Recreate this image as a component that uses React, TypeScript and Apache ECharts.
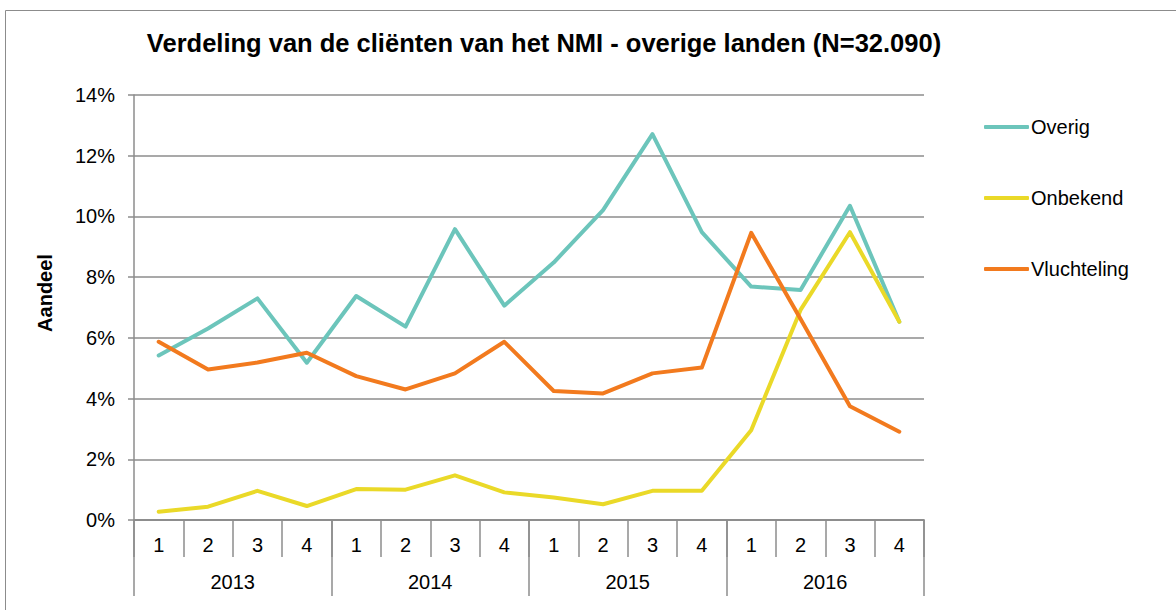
import React, { useEffect, useRef } from "react";
import * as echarts from "echarts";

const quarters = ["1", "2", "3", "4", "1", "2", "3", "4", "1", "2", "3", "4", "1", "2", "3", "4"];
const years = ["2013", "2014", "2015", "2016"];
const yTicks = { min: 0, max: 14, interval: 2 };

const overig = [5.42, 6.31, 7.3, 5.18, 7.38, 6.37, 9.58, 7.06, 8.48, 10.21, 12.71, 9.48, 7.69, 7.58, 10.35, 6.53];
const onbekend = [0.27, 0.44, 0.96, 0.46, 1.02, 1.0, 1.47, 0.91, 0.74, 0.52, 0.96, 0.96, 2.96, 6.92, 9.48, 6.53];
const vluchteling = [5.87, 4.96, 5.19, 5.51, 4.74, 4.3, 4.83, 5.87, 4.25, 4.17, 4.83, 5.02, 9.46, 6.62, 3.75, 2.91];

const seriesNames = ["Overig", "Onbekend", "Vluchteling"];
const colors = ["#6CC5BB", "#EAD928", "#F27A1E"];

const titleText = "Verdeling van de cliënten van het NMI - overige landen (N=32.090)";
const yName = "Aandeel";

const FONT = "'Liberation Sans', Arial, sans-serif";
const GRAY = "#8C8C8C";

export default function App() {
  const ref = useRef<HTMLDivElement>(null);

  useEffect(() => {
    if (!ref.current) return;
    const chart = echarts.init(ref.current, undefined, { renderer: "svg" });
    const values = [overig, onbekend, vluchteling];
    chart.setOption({
      animation: false,
      backgroundColor: "#ffffff",
      textStyle: { fontFamily: FONT },
      graphic: [
        {
          type: "rect",
          shape: { x: 5.5, y: 10.5, width: 1300, height: 700 },
          style: { fill: "none", stroke: GRAY, lineWidth: 1 },
          silent: true,
        },
        {
          type: "text",
          x: 544,
          y: 43,
          style: {
            text: titleText,
            font: `bold 25.5px ${FONT}`,
            fill: "#000",
            align: "center",
            verticalAlign: "middle",
          },
        },
        {
          type: "text",
          x: 45,
          y: 293,
          rotation: Math.PI / 2,
          style: {
            text: yName,
            font: `bold 20px ${FONT}`,
            fill: "#000",
            align: "center",
            verticalAlign: "middle",
          },
        },
      ],
      legend: {
        orient: "vertical",
        left: 979,
        top: 112,
        icon: "roundRect",
        itemWidth: 45,
        itemHeight: 4,
        itemGap: 51,
        textStyle: { fontSize: 20, color: "#000", fontFamily: FONT, padding: [0, 0, 0, -3], lineHeight: 20 },
        data: seriesNames,
      },
      grid: { left: 134, right: 252, top: 95, bottom: 90, containLabel: false },
      xAxis: [
        {
          type: "category",
          data: quarters,
          position: "bottom",
          boundaryGap: true,
          axisLine: { show: true, lineStyle: { color: GRAY, width: 1.5 } },
          axisTick: { show: true, length: 37, interval: 0, lineStyle: { color: GRAY, width: 1.5 } },
          axisLabel: { interval: 0, fontSize: 20, color: "#000", margin: 15, fontFamily: FONT },
        },
        {
          type: "category",
          data: years,
          position: "bottom",
          boundaryGap: true,
          axisLine: { show: true, lineStyle: { color: GRAY, width: 1.5 } },
          axisTick: { show: true, length: 76, interval: 0, lineStyle: { color: GRAY, width: 1.5 } },
          axisLabel: { interval: 0, fontSize: 20, color: "#000", margin: 52, fontFamily: FONT },
        },
      ],
      yAxis: {
        type: "value",
        min: yTicks.min,
        max: yTicks.max,
        interval: yTicks.interval,
        axisLine: { show: true, lineStyle: { color: GRAY, width: 1.5 } },
        axisTick: { show: true, length: 6, lineStyle: { color: GRAY, width: 1.5 } },
        axisLabel: { formatter: "{value}%", fontSize: 20, color: "#000", margin: 19, fontFamily: FONT },
        splitLine: { show: true, lineStyle: { color: GRAY, width: 1.5 } },
      },
      series: seriesNames.map((name, i) => ({
        name,
        type: "line",
        xAxisIndex: 0,
        data: values[i],
        symbol: "none",
        showSymbol: false,
        color: colors[i],
        lineStyle: { color: colors[i], width: 4, cap: "round", join: "round" },
        itemStyle: { color: colors[i] },
      })),
    });
    return () => chart.dispose();
  }, []);

  return <div ref={ref} style={{ position: "fixed", left: 0, top: 0, width: 1176, height: 610 }} />;
}
